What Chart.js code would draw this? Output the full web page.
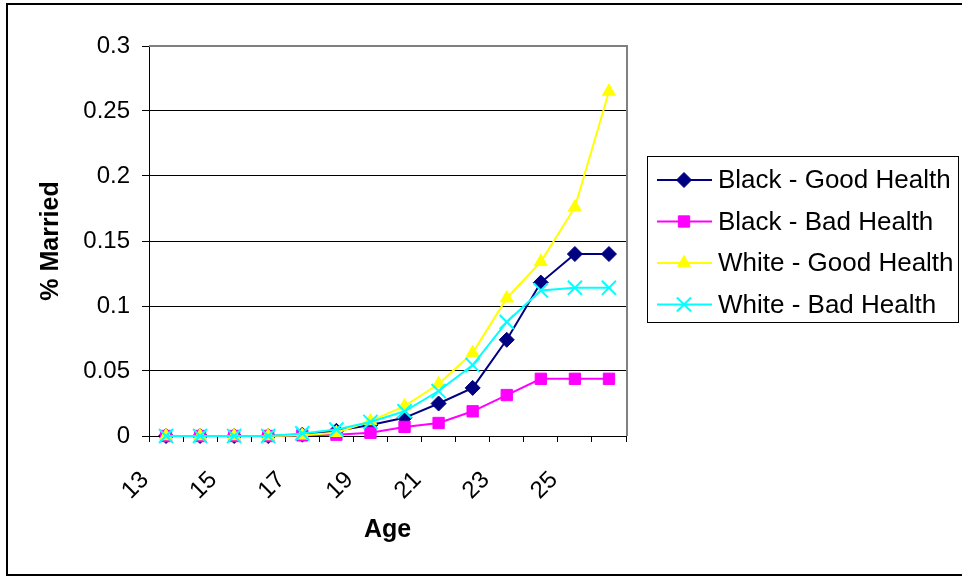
<!DOCTYPE html>
<html>
<head>
<meta charset="utf-8">
<script src="https://cdn.jsdelivr.net/npm/chart.js@4/dist/chart.umd.min.js"></script>
<style>
  html, body { margin: 0; padding: 0; background: #fff; }
  canvas { display: block; }
</style>
</head>
<body>
<canvas id="chart" width="962" height="576"></canvas>
<script>
// ─── Data ────────────────────────────────────────────────────────────────────
const ages       = ['13','14','15','16','17','18','19','20','21','22','23','24','25','26'];
const blackGood  = [0, 0, 0, 0, 0.001, 0.004, 0.0085, 0.014, 0.025, 0.037, 0.074, 0.118, 0.140, 0.140];
const blackBad   = [0, 0, 0, 0, 0.0005, 0.001, 0.0025, 0.007, 0.010, 0.019, 0.0315, 0.044, 0.044, 0.044];
const whiteGood  = [0, 0, 0, 0, 0.0005, 0.0025, 0.0115, 0.023, 0.040, 0.064, 0.106, 0.134, 0.176, 0.265];
const whiteBad   = [0, 0, 0, 0, 0.002, 0.005, 0.0108, 0.019, 0.0346, 0.0546, 0.0877, 0.112, 0.114, 0.114];
const seriesNames = ['Black - Good Health', 'Black - Bad Health', 'White - Good Health', 'White - Bad Health'];
const yTicks     = [0, 0.05, 0.1, 0.15, 0.2, 0.25, 0.3];

const FONT = 'Liberation Sans, Arial, sans-serif';

function series(label, data, color, style, radius, order) {
  return {
    label, data, order,
    borderColor: color, backgroundColor: color,
    pointBackgroundColor: color, pointBorderColor: color,
    borderWidth: 2, pointBorderWidth: style === 'crossRot' ? 2 : 1,
    pointStyle: style, pointRadius: radius, pointHoverRadius: radius,
    tension: 0, clip: false
  };
}

// ─── Frame, plot border and legend box ───────────────────────────────────────
const framePlugin = {
  id: 'frame',
  beforeDraw(chart) {
    const ctx = chart.ctx;
    ctx.save();
    ctx.fillStyle = '#fff';
    ctx.fillRect(0, 0, chart.width, chart.height);
    ctx.restore();
  },
  beforeDatasetsDraw(chart) {
    const { ctx, chartArea: a } = chart;
    ctx.save();
    ctx.strokeStyle = '#808080';
    ctx.lineWidth = 2;
    ctx.beginPath();
    ctx.moveTo(a.left, a.top);
    ctx.lineTo(a.right + 1, a.top);
    ctx.lineTo(a.right + 1, a.bottom);
    ctx.stroke();
    ctx.restore();
  },
  afterDraw(chart) {
    const ctx = chart.ctx;
    ctx.save();
    // outer chart border
    ctx.strokeStyle = '#000';
    ctx.lineWidth = 2;
    ctx.strokeRect(7, 4, 980, 571);
    // legend
    ctx.lineWidth = 1;
    ctx.strokeRect(647.5, 156.5, 311, 166);
    ctx.font = '26px ' + FONT;
    ctx.textBaseline = 'middle';
    ctx.fillStyle = '#000';
    chart.data.datasets.forEach((ds, i) => {
      const y = 180 + i * 41.5;
      ctx.strokeStyle = ds.borderColor;
      ctx.lineWidth = 2;
      ctx.beginPath();
      ctx.moveTo(657, y);
      ctx.lineTo(712, y);
      ctx.stroke();
      ctx.fillStyle = ds.pointBackgroundColor;
      ctx.lineWidth = ds.pointBorderWidth;
      Chart.helpers.drawPoint(ctx, { pointStyle: ds.pointStyle, radius: ds.pointRadius, borderWidth: ds.pointBorderWidth, rotation: 0 }, 684, y);
      ctx.fillStyle = '#000';
      ctx.fillText(ds.label, 718, y + 1);
    });
    ctx.restore();
  }
};

// ─── Chart ───────────────────────────────────────────────────────────────────
new Chart(document.getElementById('chart').getContext('2d'), {
  type: 'line',
  data: {
    labels: ages,
    datasets: [
      series(seriesNames[0], blackGood, '#000080', 'rectRot', 7.5, 4),
      series(seriesNames[1], blackBad,  '#FF00FF', 'rect', 8, 3),
      series(seriesNames[2], whiteGood, '#FFFF00', 'triangle', 7.5, 2),
      series(seriesNames[3], whiteBad,  '#00FFFF', 'crossRot', 10, 1)
    ]
  },
  options: {
    responsive: false,
    animation: false,
    layout: { padding: { left: 0, top: 46, right: 336, bottom: 0 } },
    plugins: { legend: { display: false }, tooltip: { enabled: false } },
    scales: {
      x: {
        type: 'category',
        offset: true,
        afterFit(scale) { scale.height = 140; },
        grid: { offset: true, drawOnChartArea: false, drawTicks: true, tickLength: 6, color: '#000', tickColor: '#000' },
        border: { display: true, color: '#000', width: 1 },
        ticks: {
          autoSkip: false, maxRotation: 45, minRotation: 45,
          labelOffset: -21, padding: 24, color: '#000',
          font: { family: FONT, size: 24 },
          callback: (v, i) => (i % 2 === 0 ? ages[i] : '')
        },
        title: { display: true, text: 'Age', color: '#000', font: { family: FONT, size: 25, weight: 'bold' }, padding: { top: 0, bottom: 31 } }
      },
      y: {
        min: 0, max: 0.3,
        afterFit(scale) { scale.width = 149; },
        afterBuildTicks(scale) { scale.ticks = yTicks.map(v => ({ value: v })); },
        grid: { color: '#000', tickColor: '#000', tickLength: 7, lineWidth: 1 },
        border: { display: true, color: '#000', width: 1 },
        ticks: {
          padding: 12, color: '#000',
          font: { family: FONT, size: 24 },
          callback: v => String(+Number(v).toFixed(2))
        },
        title: { display: true, text: '% Married', color: '#000', font: { family: FONT, size: 25, weight: 'bold' }, padding: { top: 36, bottom: 0 } }
      }
    }
  },
  plugins: [framePlugin]
});
</script>
</body>
</html>
